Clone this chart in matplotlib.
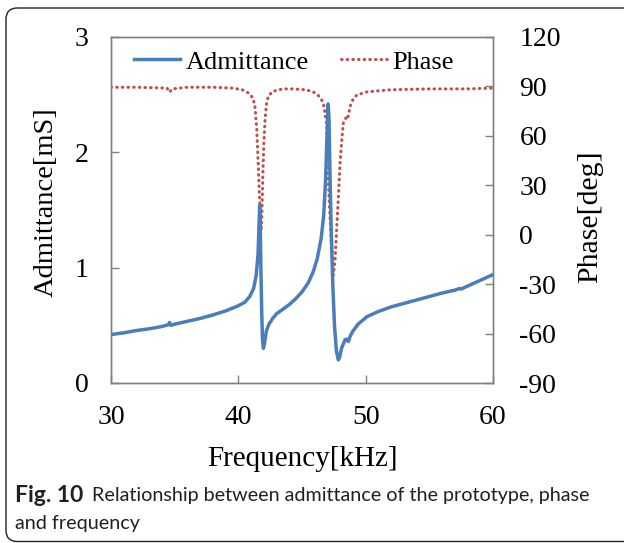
import matplotlib
matplotlib.use("Agg")
import matplotlib.pyplot as plt
from matplotlib.patches import FancyBboxPatch

# ---------------- data ----------------
adm_freq = [30.0, 31.0, 32.0, 33.0, 34.0, 34.5, 34.6, 34.7, 35.0, 36.0, 37.0, 38.0, 39.0,
            40.0, 40.5, 40.9, 41.2, 41.4, 41.55, 41.62, 41.68, 41.72, 41.77, 41.84, 41.9,
            41.97, 42.05, 42.2, 42.4, 42.7, 43.0, 43.5, 44.0, 44.5, 45.0, 45.5, 45.9,
            46.2, 46.5, 46.7, 46.85, 46.95, 47.05, 47.12, 47.2, 47.3, 47.42, 47.55, 47.7,
            47.85, 47.95, 48.1, 48.38, 48.5, 48.64, 48.8, 49.0, 49.4, 50.1, 51.0, 52.0,
            53.0, 54.0, 55.0, 56.0, 57.0, 57.4, 57.5, 58.0, 59.0, 60.0]
adm_ms = [0.42, 0.435, 0.455, 0.47, 0.49, 0.505, 0.525, 0.50, 0.51, 0.535, 0.56, 0.59, 0.625,
          0.67, 0.70, 0.75, 0.82, 0.93, 1.12, 1.36, 1.54, 1.40, 1.00, 0.60, 0.37,
          0.30, 0.34, 0.45, 0.51, 0.56, 0.60, 0.64, 0.68, 0.73, 0.79, 0.87, 0.97,
          1.08, 1.25, 1.45, 1.75, 2.10, 2.42, 2.30, 1.80, 1.30, 0.85, 0.50, 0.28,
          0.20, 0.22, 0.30, 0.375, 0.38, 0.36, 0.41, 0.45, 0.51, 0.575, 0.62, 0.66,
          0.69, 0.72, 0.75, 0.78, 0.805, 0.82, 0.815, 0.84, 0.89, 0.94]

ph_freq = [30.0, 32.0, 34.4, 34.6, 34.8, 36.0, 38.0, 39.5, 40.3, 40.8, 41.15, 41.3, 41.44,
           41.55, 41.65, 41.75, 41.8, 41.85, 41.92, 42.0, 42.1, 42.2, 42.35, 42.7, 43.5,
           44.3, 45.2, 45.8, 46.15, 46.45, 46.67, 46.93, 47.07, 47.2, 47.33, 47.46, 47.6,
           47.72, 47.85, 47.99, 48.15, 48.25, 48.4, 48.5, 48.6, 48.77, 49.0, 49.3, 50.1,
           52.0, 55.0, 57.0, 58.0, 60.0]
ph_deg = [89.5, 89.5, 89.0, 86.5, 88.5, 89.5, 89.5, 89.0, 88.0, 86.0, 83.0, 78.0, 65.0,
          45.0, 25.0, 8.0, 3.0, 12.0, 35.0, 55.0, 70.0, 79.0, 84.0, 87.0, 88.5,
          88.5, 88.0, 87.0, 85.5, 83.0, 80.0, 68.0, 33.0, 10.0, -7.0, -24.5, -15.0,
          3.0, 22.0, 43.5, 60.0, 68.0, 70.0, 72.0, 71.0, 77.7, 82.0, 84.8, 86.7,
          88.0, 88.5, 88.5, 88.5, 89.0]

xticks = [30, 40, 50, 60]
yticks_left = [0, 1, 2, 3]
yticks_right = [-90, -60, -30, 0, 30, 60, 90, 120]

# ---------------- figure ----------------
W, H = 624, 543
fig = plt.figure(figsize=(W / 100, H / 100), dpi=100)

def fx(px):
    return px / W

def fy(py):
    return 1 - py / H

serif = "Liberation Serif"
blue = "#4a7ebb"
red = "#c0504d"
spine_c = "#808080"

ax = fig.add_axes([fx(111), fy(383), fx(493) - fx(111), fy(37) - fy(383)])
ax2 = ax.twinx()

l1, = ax.plot(adm_freq, adm_ms, color=blue, lw=2.5, solid_joinstyle="round", zorder=3,
              label="Admittance")
l2, = ax2.plot(ph_freq, ph_deg, color=red, lw=2.2, dash_capstyle="round", zorder=2,
               label="Phase")
l2.set_dashes((0.2, 1.65))
ax.set_zorder(ax2.get_zorder() + 1)
ax.patch.set_visible(False)

ax.set_xlim(30, 60)
ax.set_ylim(0, 3)
ax2.set_ylim(-90, 120)
ax.set_xticks(xticks)
ax.set_yticks(yticks_left)
ax2.set_yticks(yticks_right)
ax.set_xticklabels([str(v) for v in xticks])
ax.set_yticklabels([str(v) for v in yticks_left])
ax2.set_yticklabels([str(v) for v in yticks_right])

for a in (ax, ax2):
    for s in a.spines.values():
        s.set_color(spine_c)
        s.set_linewidth(1.0)
ax.tick_params(axis="both", direction="in", length=5.5, width=1, color=spine_c,
               labelsize=20, pad=16)
ax2.tick_params(axis="y", direction="in", length=5.5, width=1, color=spine_c,
                labelsize=20, pad=19)
for lab in ax.get_xticklabels() + ax.get_yticklabels() + ax2.get_yticklabels():
    lab.set_fontfamily(serif)

fig.text(fx(46), fy(202), "Admittance[mS]", rotation=90, ha="center", va="center",
         fontsize=20.5, family=serif)
fig.text(fx(590), fy(217), "Phase[deg]", rotation=90, ha="center", va="center",
         fontsize=21.5, family=serif)
fig.text(fx(302), fy(459), "Frequency[kHz]", ha="center", va="center",
         fontsize=21, family=serif)

leg = ax.legend(handles=[l1, l2], loc="center", bbox_to_anchor=(0.479, 0.928), ncol=2,
                frameon=False, prop={"family": serif, "size": 19}, handlelength=1.75,
                handletextpad=0.2, columnspacing=1.2, borderaxespad=0)

# caption
cap_c = "#231f20"
fig.text(fx(15), fy(496), "Fig. 10", ha="left", va="center", fontsize=16.5,
         family="Lato", weight="bold", color=cap_c)
fig.text(fx(92), fy(496), "Relationship between admittance of the prototype, phase",
         ha="left", va="center", fontsize=14.2, family="Lato", color=cap_c)
fig.text(fx(15), fy(523), "and frequency", ha="left", va="center", fontsize=14.2,
         family="Lato", color=cap_c)

# rounded frame
frame = FancyBboxPatch((fx(6), fy(541.5)), fx(640) - fx(6), fy(8) - fy(541.5),
                       boxstyle="round,pad=0,rounding_size=0.018",
                       transform=fig.transFigure, fill=False, ec="#222222", lw=1.0,
                       mutation_aspect=W / H)
fig.add_artist(frame)

fig.savefig("out.png", dpi=100)
